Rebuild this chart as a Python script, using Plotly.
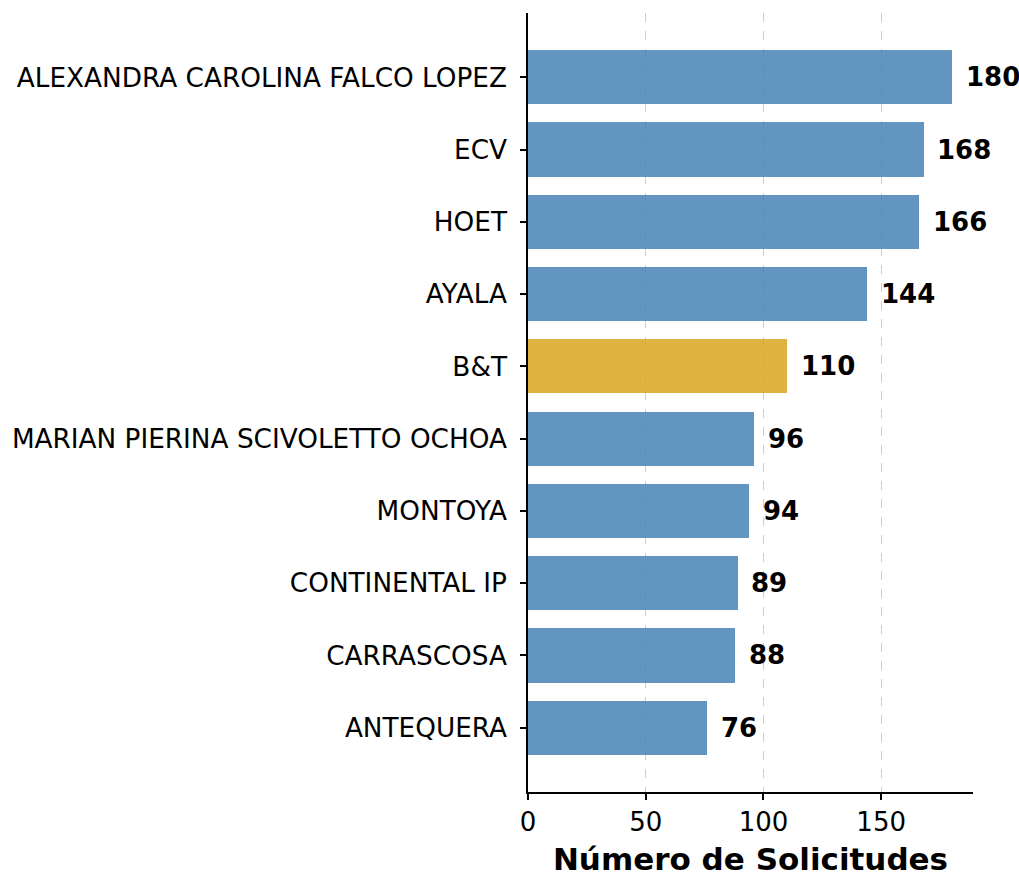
import plotly.graph_objects as go

categories = ["ALEXANDRA CAROLINA FALCO LOPEZ", "ECV", "HOET", "AYALA", "B&T",
              "MARIAN PIERINA SCIVOLETTO OCHOA", "MONTOYA", "CONTINENTAL IP",
              "CARRASCOSA", "ANTEQUERA"]
values = [180, 168, 166, 144, 110, 96, 94, 89, 88, 76]
highlight = "B&T"
x_ticks = [0, 50, 100, 150]

BLUE = "rgba(70,130,180,0.85)"
GOLD = "rgba(218,165,32,0.85)"
colors = [GOLD if c == highlight else BLUE for c in categories]
FONT = "DejaVu Sans"

fig = go.Figure()
fig.add_trace(go.Bar(
    x=values, y=categories, orientation="h",
    marker=dict(color=colors, line=dict(width=0)),
    width=0.75, showlegend=False, hoverinfo="x+y",
))

for c, v in zip(categories, values):
    fig.add_annotation(x=v + 5, y=c, text=f"<b>{v}</b>", showarrow=False,
                       xanchor="left", yanchor="middle",
                       font=dict(family=FONT, size=26, color="black"))

fig.update_layout(
    width=1019, height=877,
    margin=dict(l=528, r=46, t=13, b=85, autoexpand=False),
    plot_bgcolor="white", paper_bgcolor="white",
    font=dict(family=FONT, size=26, color="black"),
    bargap=0,
)
fig.update_xaxes(
    range=[0, 189], tickvals=x_ticks, ticks="outside", ticklen=6, tickwidth=1.5,
    tickcolor="black", showline=True, linecolor="black", linewidth=1.5,
    showgrid=True, gridcolor="rgba(185,185,185,0.7)", griddash="dash", gridwidth=1,
    zeroline=False, tickfont=dict(size=26), automargin=False,
    title=dict(text="<b>Número de Solicitudes</b>", font=dict(size=31), standoff=12),
)
fig.update_yaxes(
    range=[9.89, -0.89], ticks="outside", ticklen=6, tickwidth=1.5, tickcolor="black",
    showline=True, linecolor="black", linewidth=1.5, showgrid=False,
    tickfont=dict(size=26.3), ticklabelstandoff=8, automargin=False,
)

fig.write_html("out.html", config={"displayModeBar": False},
               post_script="document.body.style.margin='0';")
